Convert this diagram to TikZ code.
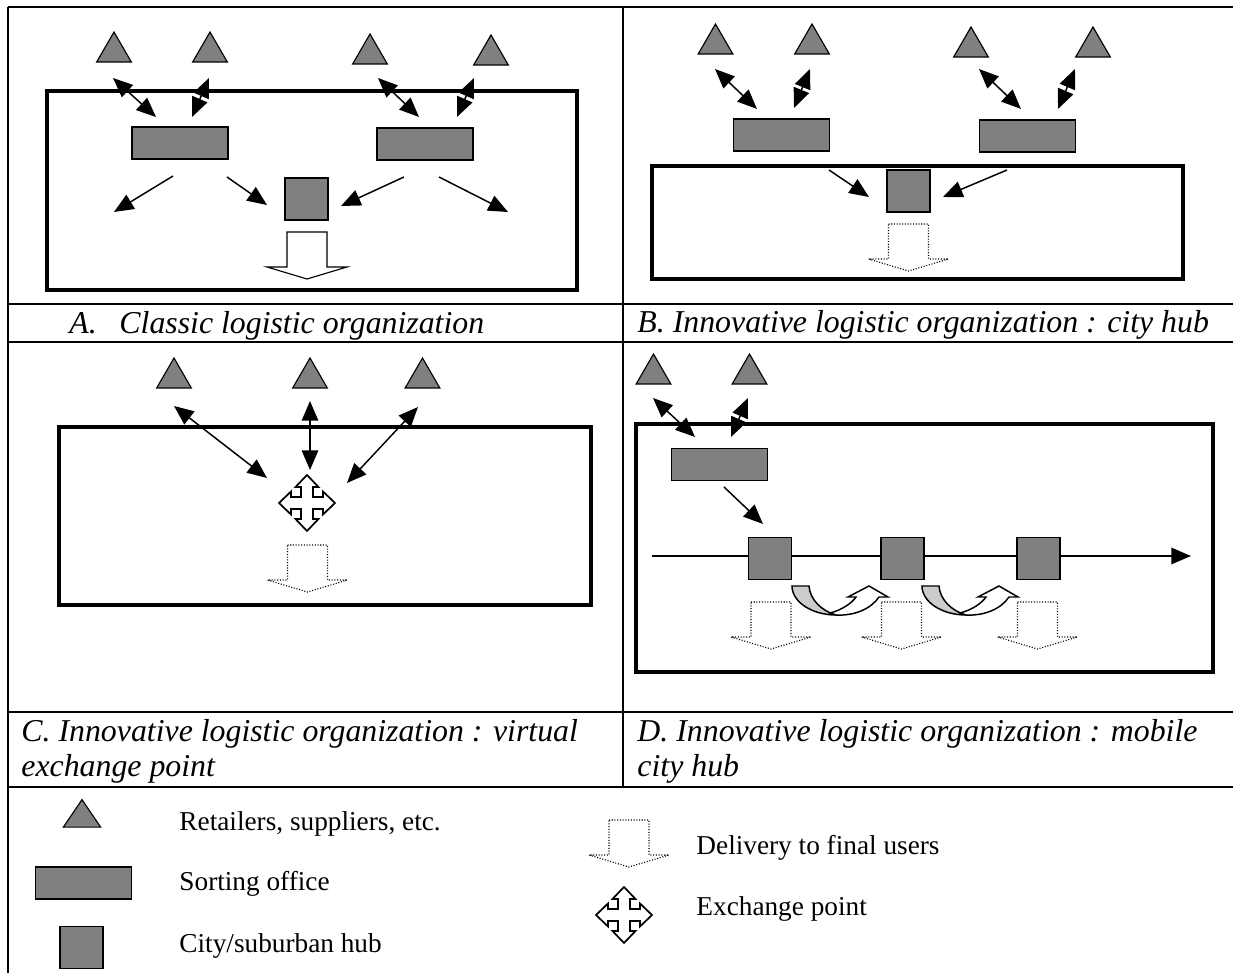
\documentclass[tikz,border=0pt]{standalone}
\usepackage{fontspec}
\setmainfont{Liberation Serif}
\usetikzlibrary{arrows.meta,shapes.geometric}

\begin{document}
\begin{tikzpicture}[x=0.44pt, y=-0.44pt,
  tri/.style = {draw, fill=black!50, regular polygon, regular polygon sides=3, minimum size=17.6pt, inner sep=0pt, line width=0.5pt},
  sorting/.style = {draw, fill=black!50, minimum width=42.2pt, minimum height=14.1pt, inner sep=0pt, line width=0.8pt},
  hub/.style = {draw, fill=black!50, minimum width=18.9pt, minimum height=18.5pt, inner sep=0pt, line width=0.8pt},
  city/.style = {line width=1.5pt},
  grid/.style = {line width=0.8pt},
  dots/.style = {dash pattern=on 0.45pt off 0.75pt},
  dbl/.style = {{Triangle[length=8.6pt,width=7.2pt]}-{Triangle[length=8.6pt,width=7.2pt]}, line width=0.65pt},
  one/.style = {-{Triangle[length=8.6pt,width=7.2pt]}, line width=0.65pt},
  captxt/.style = {anchor=base west, inner sep=0pt, font=\fontsize{14}{16}\selectfont\itshape},
  legtxt/.style = {anchor=base west, inner sep=0pt, font=\fontsize{12}{14}\selectfont},
  delivery/.pic = {\draw[fill=white, line width=0.5pt] (-20,0) -- (20,0) -- (20,35) -- (40,35) -- (0,47) -- (-40,35) -- (-20,35) -- cycle;},
  exchange/.pic = {\draw[fill=white, line width=0.75pt] (0,-28) -- (11.5,-16) -- (6,-16) -- (6,-6) -- (16,-6) -- (16,-11.5) -- (28,0) -- (16,11.5) -- (16,6) -- (6,6) -- (6,16) -- (11.5,16) -- (0,28) -- (-11.5,16) -- (-6,16) -- (-6,6) -- (-16,6) -- (-16,11.5) -- (-28,0) -- (-16,-11.5) -- (-16,-6) -- (-6,-6) -- (-6,-16) -- (-11.5,-16) -- cycle;},
  hop/.pic = {\draw[fill=black!20, line width=0.65pt] (0,0) -- (17,0) .. controls (18,14) and (30,25) .. (44,29) .. controls (20,29) and (0,16) .. (0,0) -- cycle;
    \draw[fill=white, line width=0.65pt] (38,27) .. controls (50,24) and (60,17) .. (64,11) -- (56,11) -- (77,0) -- (96,11) -- (87,11) .. controls (79,23) and (62,30) .. (44,29) -- cycle;}]
\useasboundingbox (0,0) rectangle (1233,973);

% table
\draw[grid] (8,7) -- (1233,7);
\draw[grid] (8,7) -- (8,973);
\draw[grid] (623,7) -- (623,787);
\draw[grid] (8,304) -- (1233,304);
\draw[grid] (8,342) -- (1233,342);
\draw[grid] (8,712) -- (1233,712);
\draw[grid] (8,787) -- (1233,787);

% A. classic
\draw[city] (47,91) rectangle (577,290);
\node[tri] (aT1) at (114,52) {};
\node[tri] (aT2) at (210,52) {};
\node[tri] (aT3) at (370,54) {};
\node[tri] (aT4) at (491,55) {};
\node[sorting] (aS1) at (180,143) {};
\node[sorting] (aS2) at (425,144) {};
\node[hub] (aH) at (306.5,199) {};
\pic at (307,232) {delivery};
\coordinate (ap1) at (113,78); \coordinate (aq1) at (156,117);
\coordinate (ap2) at (209,78); \coordinate (aq2) at (192,117);
\coordinate (ap3) at (378,78); \coordinate (aq3) at (419,117);
\coordinate (ap4) at (474,78); \coordinate (aq4) at (457,117);
\coordinate (ar1) at (173,176); \coordinate (as1) at (114,212);
\coordinate (ar2) at (227,177); \coordinate (as2) at (267,205);
\coordinate (ar3) at (404,177); \coordinate (as3) at (341,206);
\coordinate (ar4) at (439,177); \coordinate (as4) at (508,212);
\draw[dbl] (ap1) -- (aq1);
\draw[dbl] (ap2) -- (aq2);
\draw[dbl] (ap3) -- (aq3);
\draw[dbl] (ap4) -- (aq4);
\draw[one] (ar1) -- (as1);
\draw[one] (ar2) -- (as2);
\draw[one] (ar3) -- (as3);
\draw[one] (ar4) -- (as4);

% B. city hub
\draw[city] (652,166) rectangle (1183,279);
\node[tri] (bT1) at (715.5,44) {};
\node[tri] (bT2) at (812,44) {};
\node[tri] (bT3) at (971,47) {};
\node[tri] (bT4) at (1093,47) {};
\node[sorting] (bS1) at (781.5,135) {};
\node[sorting] (bS2) at (1027.5,136) {};
\node[hub] (bH) at (908.5,191) {};
\pic[dots] at (908.5,224) {delivery};
\coordinate (bp1) at (715,69); \coordinate (bq1) at (757,109);
\coordinate (bp2) at (810,69); \coordinate (bq2) at (794,108);
\coordinate (bp3) at (979,69); \coordinate (bq3) at (1021,109);
\coordinate (bp4) at (1075,69); \coordinate (bq4) at (1058,109);
\coordinate (br1) at (829,170); \coordinate (bs1) at (869,197);
\coordinate (br2) at (1007,170); \coordinate (bs2) at (943,197);
\draw[dbl] (bp1) -- (bq1);
\draw[dbl] (bp2) -- (bq2);
\draw[dbl] (bp3) -- (bq3);
\draw[dbl] (bp4) -- (bq4);
\draw[one] (br1) -- (bs1);
\draw[one] (br2) -- (bs2);

% C. virtual exchange point
\draw[city] (59,427) rectangle (591,605);
\node[tri] (cT1) at (174,378) {};
\node[tri] (cT2) at (310,378) {};
\node[tri] (cT3) at (422.5,378) {};
\pic at (307,503) {exchange};
\pic[dots] at (307.5,545) {delivery};
\coordinate (cp1) at (174,406); \coordinate (cq1) at (267,478);
\coordinate (cp2) at (310,401); \coordinate (cq2) at (310,470);
\coordinate (cp3) at (418,407); \coordinate (cq3) at (347,483);
\draw[dbl] (cp1) -- (cq1);
\draw[dbl] (cp2) -- (cq2);
\draw[dbl] (cp3) -- (cq3);

% D. mobile city hub
\draw[city] (636,424) rectangle (1213,672);
\coordinate (dl1) at (652,556); \coordinate (dl2) at (1191,556);
\draw[one] (dl1) -- (dl2);
\node[tri] (dT1) at (653.5,374) {};
\node[tri] (dT2) at (749.5,374) {};
\node[sorting] (dS) at (719.5,464.5) {};
\node[hub] (dH1) at (770,558.5) {};
\node[hub] (dH2) at (902.5,558.5) {};
\node[hub] (dH3) at (1038.5,558.5) {};
\pic[dots] at (771,602) {delivery};
\pic[dots] at (901.5,602) {delivery};
\pic[dots] at (1037.5,602) {delivery};
\pic at (792,586) {hop};
\pic at (922,586) {hop};
\coordinate (dp1) at (653,398); \coordinate (dq1) at (695,437);
\coordinate (dp2) at (748,398); \coordinate (dq2) at (731,437);
\coordinate (dr1) at (724,487); \coordinate (ds1) at (763,524);
\draw[dbl] (dp1) -- (dq1);
\draw[dbl] (dp2) -- (dq2);
\draw[one] (dr1) -- (ds1);

% captions
\node[captxt] (capA1) at (69,334) {A.};
\node[captxt] (capA2) at (119,334) {Classic logistic organization};
\node[captxt] (capB) at (637,333) {B. Innovative logistic organization : city hub};
\node[captxt] (capC1) at (21,742) {C. Innovative logistic organization : virtual};
\node[captxt] (capC2) at (21,777) {exchange point};
\node[captxt] (capD1) at (637,742) {D. Innovative logistic organization : mobile};
\node[captxt] (capD2) at (637,777) {city hub};

% legend
\node[tri, minimum size=19pt, yscale=0.85] (lT) at (82,818) {};
\node[sorting] (lS) at (83.5,883) {};
\node[hub] (lH) at (81.5,947.5) {};
\pic[dots] at (629,820) {delivery};
\pic at (624,915) {exchange};
\node[legtxt] (lTt) at (179,831) {Retailers, suppliers, etc.};
\node[legtxt] (lSt) at (179,891) {Sorting office};
\node[legtxt] (lHt) at (179,953) {City/suburban hub};
\node[legtxt] (lDt) at (696,855) {Delivery to final users};
\node[legtxt] (lXt) at (696,916) {Exchange point};
\end{tikzpicture}
\end{document}
